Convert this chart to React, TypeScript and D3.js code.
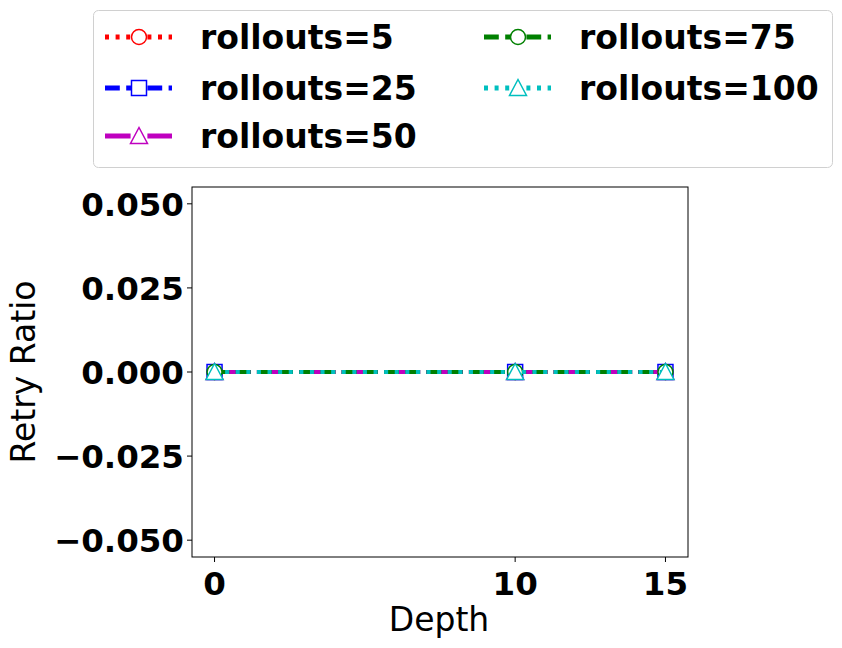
import React from "react";
import * as d3 from "d3";

const depths = [0, 10, 15];
const seriesNames = ["rollouts=5", "rollouts=25", "rollouts=50", "rollouts=75", "rollouts=100"];
const seriesValues = [
  [0, 0, 0],
  [0, 0, 0],
  [0, 0, 0],
  [0, 0, 0],
  [0, 0, 0],
];
const colors = ["#ff0000", "#0000ff", "#bf00bf", "#008000", "#00bfbf"];
const dashes = ["4,6.6", "14.8,6.4", "25.6,6.4,4,6.4", "14.8,6.4", "4,6.6"];
const markers = ["circle", "square", "triangle", "circle", "triangle"];
const yTicks = [-0.05, -0.025, 0, 0.025, 0.05];
const xTicks = [0, 10, 15];

const L = 192, R = 688, T = 187, B = 557;
const font = "'DejaVu Sans', sans-serif";

function Marker({ kind, x, y, color }: { kind: string; x: number; y: number; color: string }) {
  const s = 7.5;
  if (kind === "circle") return <circle cx={x} cy={y} r={s} fill="white" stroke={color} strokeWidth={1.5} />;
  if (kind === "square") return <rect x={x - s} y={y - s} width={2 * s} height={2 * s} fill="white" stroke={color} strokeWidth={1.5} />;
  return <path d={`M${x},${y - s - 1}L${x + s + 1},${y + s}L${x - s - 1},${y + s}Z`} fill="white" stroke={color} strokeWidth={1.5} />;
}

export default function App() {
  const x = d3.scaleLinear().domain([-0.75, 15.75]).range([L, R]);
  const y = d3.scaleLinear().domain([-0.055, 0.055]).range([B, T]);
  const line = d3.line<number>().x((_, i) => x(depths[i])).y((v) => y(v));
  const legendPos = [
    [105, 37], [105, 88], [105, 136], [484, 37], [484, 88],
  ];
  return (
    <svg width={842} height={648} style={{ position: "absolute", left: 0, top: 0 }} fontFamily={font}>
      <rect x={0} y={0} width={842} height={648} fill="white" />
      {seriesValues.map((vals, k) => (
        <g key={k}>
          <path d={line(vals) || ""} fill="none" stroke={colors[k]} strokeWidth={4} strokeDasharray={dashes[k]} />
          {vals.map((v, i) => <Marker key={i} kind={markers[k]} x={x(depths[i])} y={y(v)} color={colors[k]} />)}
        </g>
      ))}
      <rect x={L} y={T} width={R - L} height={B - T} fill="none" stroke="black" strokeWidth={1} />
      {yTicks.map((t) => (
        <g key={t}>
          <line x1={L - 5} x2={L} y1={y(t)} y2={y(t)} stroke="black" />
          <text x={L - 8} y={y(t)} dy="0.36em" textAnchor="end" fontSize={32.5} fontWeight="bold">
            {t === 0 ? "0.000" : (t < 0 ? "\u2212" : "") + Math.abs(t).toFixed(3)}
          </text>
        </g>
      ))}
      {xTicks.map((t) => (
        <g key={t}>
          <line x1={x(t)} x2={x(t)} y1={B} y2={B + 5} stroke="black" />
          <text x={x(t)} y={B + 38} textAnchor="middle" fontSize={32.5} fontWeight="bold">{t}</text>
        </g>
      ))}
      <text x={439} y={631} textAnchor="middle" fontSize={33}>Depth</text>
      <text transform="translate(35,372) rotate(-90)" textAnchor="middle" fontSize={33}>Retry Ratio</text>
      <rect x={93.5} y={10.5} width={739} height={157} rx={5} fill="white" stroke="#d0d0d0" strokeWidth={1} />
      {legendPos.map(([lx, ly], k) => (
        <g key={k}>
          <line x1={lx} x2={lx + 67} y1={ly} y2={ly} stroke={colors[k]} strokeWidth={5} strokeDasharray={dashes[k]} />
          <Marker kind={markers[k]} x={lx + 34} y={ly} color={colors[k]} />
          <text x={lx + 95} y={ly} dy="0.36em" fontSize={33} fontWeight="bold">{seriesNames[k]}</text>
        </g>
      ))}
    </svg>
  );
}
